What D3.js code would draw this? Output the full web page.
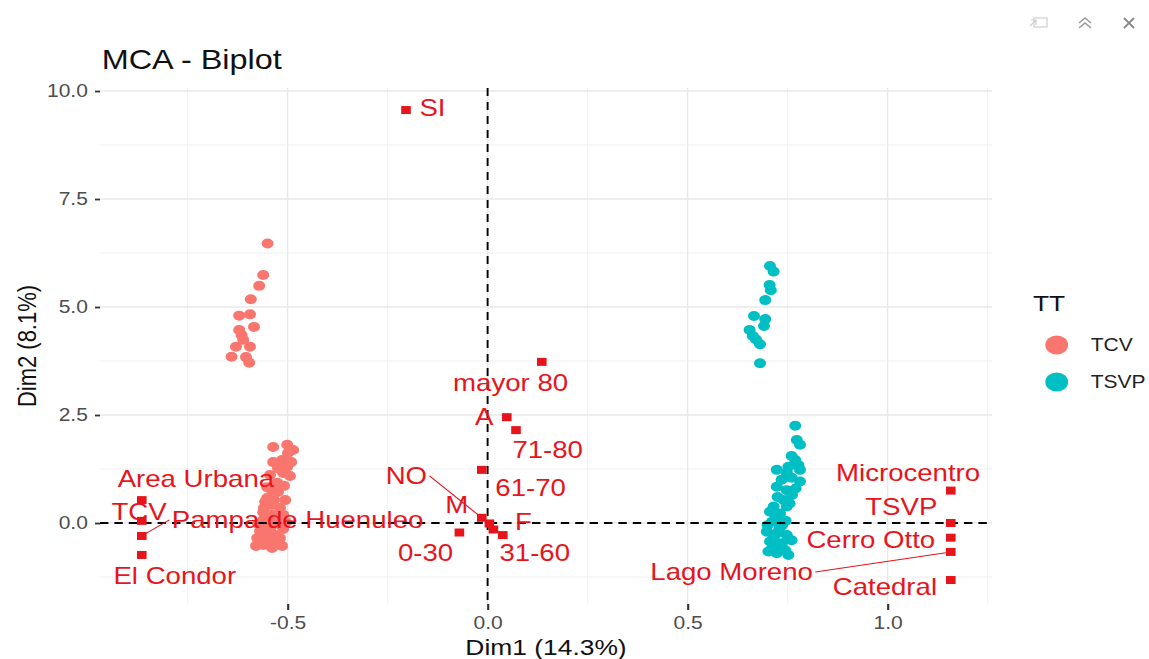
<!DOCTYPE html>
<html>
<head>
<meta charset="utf-8">
<script src="https://cdn.jsdelivr.net/npm/d3@7"></script>
<style>
  body { margin: 0; background: #fff; }
  text { font-family: "Liberation Sans", Arial, Helvetica, sans-serif; }
</style>
</head>
<body>
<svg id="vis" width="1149" height="659"></svg>
<script>
// ---- data ----
const groups = ["TCV", "TSVP"];
const groupColours = ["#F8766D", "#00BFC4"];

// individuals, [Dim1, Dim2]
const tcvPoints = [
    [-0.550, 6.47], [-0.561, 5.74], [-0.571, 5.49], [-0.592, 5.18], [-0.621, 4.80],
    [-0.594, 4.83], [-0.584, 4.54], [-0.621, 4.47], [-0.615, 4.35], [-0.611, 4.24],
    [-0.629, 4.08], [-0.594, 4.08], [-0.640, 3.85], [-0.604, 3.84], [-0.596, 3.71],
    [-0.536, 1.76], [-0.501, 1.81], [-0.486, 1.69], [-0.499, 1.62], [-0.514, 1.46],
    [-0.536, 1.41], [-0.491, 1.41], [-0.501, 1.30], [-0.524, 1.27], [-0.511, 1.16],
    [-0.544, 1.11], [-0.494, 1.09], [-0.526, 0.93], [-0.509, 0.86], [-0.551, 0.83],
    [-0.539, 0.76], [-0.524, 0.72], [-0.551, 0.58], [-0.534, 0.53], [-0.539, 0.42],
    [-0.559, 0.35], [-0.519, 0.35], [-0.561, 0.25], [-0.539, 0.19], [-0.511, 0.19],
    [-0.561, 0.07], [-0.544, 0.05], [-0.574, -0.02], [-0.529, -0.02], [-0.554, -0.09],
    [-0.544, -0.16], [-0.511, -0.14], [-0.564, -0.28], [-0.531, -0.28], [-0.576, -0.35],
    [-0.549, -0.37], [-0.519, -0.35], [-0.551, -0.44], [-0.526, -0.46], [-0.561, -0.51],
    [-0.579, -0.53], [-0.539, -0.58], [-0.514, -0.53], [-0.569, -0.19], [-0.524, 0.12],
    [-0.504, 0.02], [-0.556, 0.49], [-0.506, 0.53]
];
const tsvpPoints = [
    [0.706, 5.95], [0.715, 5.82], [0.705, 5.51], [0.708, 5.39], [0.694, 5.16],
    [0.666, 4.79], [0.694, 4.72], [0.691, 4.56], [0.655, 4.47], [0.663, 4.33],
    [0.671, 4.25], [0.681, 4.14], [0.681, 3.70],
    [0.769, 2.25], [0.773, 1.92], [0.781, 1.81], [0.769, 1.46], [0.777, 1.34],
    [0.723, 1.23], [0.781, 1.23], [0.748, 1.16], [0.781, 0.96], [0.723, 0.84],
    [0.748, 0.76], [0.761, 0.65], [0.740, 0.53], [0.715, 0.38], [0.706, 0.26],
    [0.731, 0.22], [0.748, 0.38], [0.711, 0.03], [0.736, -0.05], [0.698, -0.20],
    [0.723, -0.24], [0.748, -0.28], [0.706, -0.43], [0.736, -0.47], [0.711, -0.59],
    [0.744, -0.63], [0.752, -0.74], [0.723, -0.70], [0.702, -0.66],
    [0.760, 1.05], [0.735, 1.00], [0.770, 0.80], [0.725, 0.60], [0.755, 0.45],
    [0.720, 0.10], [0.745, 0.05], [0.700, -0.05], [0.730, -0.12], [0.715, -0.35],
    [0.760, -0.40], [0.725, -0.55], [0.752, 1.30], [0.760, 1.55]
];

// variable categories
const varNames = ["SI", "mayor 80", "A", "71-80", "61-70", "NO", "M", "F", "31-60", "0-30",
    "Area Urbana", "TCV", "Pampa de Huenuleo", "El Condor",
    "Microcentro", "TSVP", "Cerro Otto", "Lago Moreno", "Catedral"];
const varDim1 = [-0.204, 0.1355, 0.048, 0.071, -0.0145, -0.0145, 0.0045, 0.0145, 0.038, -0.0705,
    -0.8645, -0.8645, -0.8645, -0.8645,
    1.158, 1.158, 1.158, 1.158, 1.158];
const varDim2 = [9.56, 3.73, 2.45, 2.15, 1.23, 0.12, -0.01, -0.15, -0.28, -0.22,
    0.53, 0.05, -0.30, -0.74,
    0.75, 0.0, -0.34, -0.67, -1.32];

const xTicks = [-0.5, 0.0, 0.5, 1.0];
const xMinor = [-0.75, -0.25, 0.25, 0.75, 1.25];
const yTicks = [0.0, 2.5, 5.0, 7.5, 10.0];
const yMinor = [-1.25, 1.25, 3.75, 6.25, 8.75];
const X_DOMAIN = [-0.969, 1.261];
const Y_DOMAIN = [-1.875, 10.07];

// ---- layout ----
const SX = 1.2;   // the reference is stretched sideways
const PANEL = {left: 100 / SX, right: 992 / SX, top: 88, bottom: 604};
const RED = "#e8141c";

// where the repelled labels ended up, offset from their square (screen px)
const LABEL_OFFSETS = {
    "SI": [26.5, -2.5], "mayor 80": [-31.2, 21.3], "A": [-22.7, 0], "71-80": [31.7, 20],
    "61-70": [48.8, 18.3], "NO": [-75.4, -42], "M": [-32.6, -19.1], "F": [30, -8],
    "31-60": [32, 17.5], "0-30": [-33.8, 19.8], "Area Urbana": [54.1, -21], "TCV": [-2.7, -9],
    "Pampa de Huenuleo": [155.8, -16], "El Condor": [33, 21], "Microcentro": [-42.7, -17.4],
    "TSVP": [-49.5, -16.6], "Cerro Otto": [-80, 2.3], "Lago Moreno": [-219.2, 20], "Catedral": [-65.9, 6.7]
};
const WITH_SEGMENT = ["NO", "Pampa de Huenuleo", "Lago Moreno"];

const svg = d3.select("#vis");
const g = svg.append("g").attr("transform", `scale(${SX},1)`);

const x = d3.scaleLinear().domain(X_DOMAIN).range([PANEL.left, PANEL.right]);
const y = d3.scaleLinear().domain(Y_DOMAIN).range([PANEL.bottom, PANEL.top]);

// grid
const grid = g.append("g");
grid.selectAll(".vminor").data(xMinor).enter().append("line")
    .attr("x1", d => x(d)).attr("x2", d => x(d))
    .attr("y1", PANEL.top).attr("y2", PANEL.bottom)
    .attr("stroke", "#f0f0f0").attr("stroke-width", 0.8);
grid.selectAll(".hminor").data(yMinor).enter().append("line")
    .attr("x1", PANEL.left).attr("x2", PANEL.right)
    .attr("y1", d => y(d)).attr("y2", d => y(d))
    .attr("stroke", "#f0f0f0").attr("stroke-width", 1);
grid.selectAll(".vmajor").data(xTicks).enter().append("line")
    .attr("x1", d => x(d)).attr("x2", d => x(d))
    .attr("y1", PANEL.top).attr("y2", PANEL.bottom)
    .attr("stroke", "#e8e8e8").attr("stroke-width", 1.2);
grid.selectAll(".hmajor").data(yTicks).enter().append("line")
    .attr("x1", PANEL.left).attr("x2", PANEL.right)
    .attr("y1", d => y(d)).attr("y2", d => y(d))
    .attr("stroke", "#e8e8e8").attr("stroke-width", 1.4);

// axes
const xAxis = d3.axisBottom(x).tickValues(xTicks).tickSize(6).tickPadding(7)
    .tickFormat(d => d.toFixed(1));
const yAxis = d3.axisLeft(y).tickValues(yTicks).tickSize(5 / SX).tickPadding(6)
    .tickFormat(d => d.toFixed(1));

function styleAxis(sel) {
    sel.select(".domain").remove();
    sel.attr("font-family", null).attr("font-size", null);
    sel.selectAll(".tick line").attr("stroke", "#333").attr("stroke-width", 1.8);
    sel.selectAll(".tick text").attr("fill", "#4d4d4d").style("font-size", "17.5px");
}
g.append("g").attr("transform", `translate(0,${PANEL.bottom})`).call(xAxis).call(styleAxis);
g.append("g").attr("transform", `translate(${PANEL.left},0)`).call(yAxis).call(styleAxis);

// individuals
const pointSets = [tcvPoints, tsvpPoints];
pointSets.forEach(function(pts, i) {
    g.append("g").selectAll("circle").data(pts).enter().append("circle")
        .attr("cx", d => x(d[0])).attr("cy", d => y(d[1]))
        .attr("r", 5)
        .attr("fill", groupColours[i]);
});

// dashed origin lines
g.append("line")
    .attr("x1", PANEL.left).attr("x2", PANEL.right)
    .attr("y1", y(0)).attr("y2", y(0))
    .attr("stroke", "#000").attr("stroke-width", 1.9).attr("stroke-dasharray", "7,5");
g.append("line")
    .attr("x1", x(0)).attr("x2", x(0))
    .attr("y1", PANEL.top).attr("y2", PANEL.bottom)
    .attr("stroke", "#000").attr("stroke-width", 1.6).attr("stroke-dasharray", "8,6");

// variable categories
const vars = varNames.map((n, i) => ({name: n, px: x(varDim1[i]), py: y(varDim2[i])}));
const LABEL_SIZE = 23;

const segs = g.append("g");
g.append("g").selectAll("rect").data(vars).enter().append("rect")
    .attr("x", d => d.px - 4).attr("y", d => d.py - 4)
    .attr("width", 8).attr("height", 8)
    .attr("fill", RED);

const labels = g.append("g").selectAll("text").data(vars).enter().append("text")
    .attr("x", d => d.px + LABEL_OFFSETS[d.name][0] / SX)
    .attr("y", d => d.py + LABEL_OFFSETS[d.name][1] + 0.358 * LABEL_SIZE)
    .attr("text-anchor", "middle")
    .style("font-size", LABEL_SIZE + "px")
    .attr("fill", RED)
    .text(d => d.name);

// segments from the label box edge to its square
labels.filter(d => WITH_SEGMENT.includes(d.name)).each(function(d) {
    const b = this.getBBox();
    const cy = d.py + LABEL_OFFSETS[d.name][1];
    const cands = [[b.x - 2, cy], [b.x + b.width + 2, cy], [b.x + b.width / 2, b.y], [b.x + b.width / 2, b.y + b.height]];
    let best = cands[0], bestD = Infinity;
    cands.forEach(function(c) {
        const dd = Math.hypot((c[0] - d.px) * SX, c[1] - d.py);
        if (dd < bestD) { bestD = dd; best = c; }
    });
    const dx = (best[0] - d.px) * SX, dy = best[1] - d.py, len = Math.hypot(dx, dy);
    const pad = 5;
    segs.append("line")
        .attr("x1", best[0]).attr("y1", best[1])
        .attr("x2", d.px + dx / len * pad / SX).attr("y2", d.py + dy / len * pad)
        .attr("stroke", RED).attr("stroke-width", 1);
});

// titles
g.append("text").attr("x", 101.7 / SX).attr("y", 69)
    .style("font-size", "27px").attr("fill", "#111").text("MCA - Biplot");
g.append("text").attr("x", (PANEL.left + PANEL.right) / 2).attr("y", 655)
    .attr("text-anchor", "middle").style("font-size", "22px").attr("fill", "#111")
    .text("Dim1 (14.3%)");
g.append("text").attr("transform", `translate(${36 / SX},${(PANEL.top + PANEL.bottom) / 2}) rotate(-90)`)
    .attr("text-anchor", "middle").style("font-size", "22px").attr("fill", "#111")
    .text("Dim2 (8.1%)");

// legend
const legend = g.append("g");
legend.append("text").attr("x", 1033 / SX).attr("y", 311)
    .style("font-size", "22px").attr("fill", "#111").text("TT");
groups.forEach(function(name, i) {
    const cy = 345 + i * 37;
    legend.append("circle").attr("cx", 1056.7 / SX).attr("cy", cy).attr("r", 9.5)
        .attr("fill", groupColours[i]);
    legend.append("text").attr("x", 1090.7 / SX).attr("y", cy + 0.358 * 17.5)
        .style("font-size", "17.5px").attr("fill", "#222").text(name);
});

// viewer chrome, top right
const chrome = svg.append("g").attr("fill", "none");
chrome.append("rect").attr("x", 1034).attr("y", 18).attr("width", 13).attr("height", 9)
    .attr("stroke", "#cfcfcf").attr("stroke-width", 1.2);
chrome.append("path").attr("d", "M1030,26 L1036,20 M1031,20 L1036,20 L1036,25")
    .attr("stroke", "#cfcfcf").attr("stroke-width", 1.2);
chrome.append("path").attr("d", "M1079,23 L1085,18 L1091,23 M1079,28 L1085,23 L1091,28")
    .attr("stroke", "#9a9a9a").attr("stroke-width", 1.5);
chrome.append("path").attr("d", "M1124,18 L1134,28 M1134,18 L1124,28")
    .attr("stroke", "#8a8a8a").attr("stroke-width", 1.8);
</script>
</body>
</html>
